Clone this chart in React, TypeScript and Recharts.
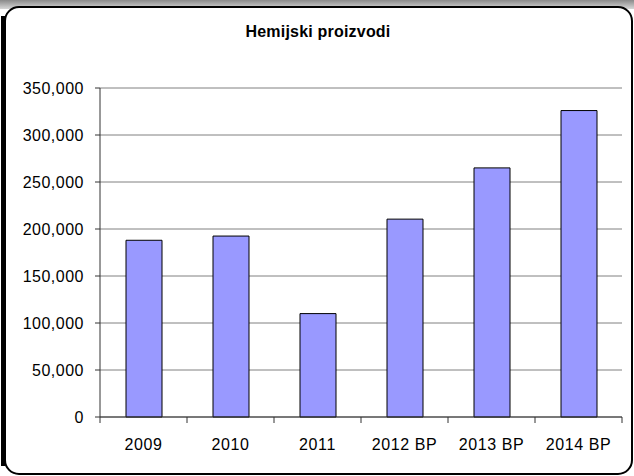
import React from "react";
import { BarChart, Bar, XAxis, YAxis, CartesianGrid } from "recharts";

const categories = ["2009", "2010", "2011", "2012 BP", "2013 BP", "2014 BP"];
const values = [188000, 192500, 110000, 210500, 265000, 326000];
const yTicks = [0, 50000, 100000, 150000, 200000, 250000, 300000, 350000];
const title = "Hemijski proizvodi";

const data = categories.map((c, i) => ({ name: c, value: values[i] }));

const W = 634;
const H = 476;
const FONT = "'Liberation Sans', Arial, sans-serif";
const PLOT_LEFT = 100;
const PLOT_RIGHT = 622;
const BAND = (PLOT_RIGHT - PLOT_LEFT) / categories.length;

const fmt = (v: number) => v.toLocaleString("en-US");

const XTick = (props: any) => {
  const { x, y, payload, index } = props;
  const half = BAND / 2;
  return (
    <g>
      <line x1={x - half} y1={y} x2={x - half} y2={y + 6} stroke="#333" />
      {index === categories.length - 1 && (
        <line x1={x + half} y1={y} x2={x + half} y2={y + 6} stroke="#333" />
      )}
      <text
        x={x}
        y={y + 33}
        textAnchor="middle"
        fontSize={16}
        fontFamily={FONT}
        fill="#000"
        style={{ letterSpacing: "0.6px" }}
      >
        {payload.value}
      </text>
    </g>
  );
};

export default function App() {
  return (
    <div style={{ position: "absolute", left: 0, top: 0, width: W, height: H, background: "#fff" }}>
      <svg width={W} height={H} style={{ position: "absolute", left: 0, top: 0 }}>
        <defs>
          <linearGradient id="topg" x1="0" y1="0" x2="0" y2="1">
            <stop offset="0" stopColor="#8a8a8a" />
            <stop offset="1" stopColor="#d8d8d8" />
          </linearGradient>
        </defs>
        <rect x={0} y={0} width={W} height={9} fill="url(#topg)" />
        <rect x={5} y={7} width={627} height={467} rx={14} ry={14} fill="#fff" stroke="#000" strokeWidth={2} />
        <rect x={1} y={16} width={4} height={450} fill="#000" />
        <text
          x={318}
          y={37}
          textAnchor="middle"
          fontSize={16}
          fontWeight="bold"
          fontFamily={FONT}
          fill="#000"
          style={{ letterSpacing: "0.2px" }}
        >
          {title}
        </text>
      </svg>
      <div style={{ position: "absolute", left: 0, top: 0 }}>
        <BarChart
          width={W}
          height={H}
          data={data}
          margin={{ top: 88, right: W - PLOT_RIGHT, bottom: 29, left: 0 }}
          barCategoryGap={0}
        >
          <CartesianGrid vertical={false} stroke="#808080" strokeWidth={1} />
          <XAxis
            dataKey="name"
            height={30}
            interval={0}
            tickLine={false}
            tickSize={0}
            tickMargin={0}
            axisLine={{ stroke: "#333" }}
            tick={<XTick />}
          />
          <YAxis
            width={PLOT_LEFT}
            domain={[0, 350000]}
            ticks={yTicks}
            interval={0}
            tickFormatter={fmt}
            tickSize={5}
            tickMargin={11}
            axisLine={{ stroke: "#333" }}
            tickLine={{ stroke: "#333" }}
            tick={{ fontSize: 16, fontFamily: FONT, fill: "#000", style: { letterSpacing: "0.5px" } }}
          />
          <YAxis
            yAxisId="right"
            orientation="right"
            width={0}
            domain={[0, 350000]}
            tick={false}
            tickLine={false}
            axisLine={{ stroke: "#999" }}
          />
          <Bar dataKey="value" fill="#9999FF" stroke="#000" strokeWidth={1} barSize={36} isAnimationActive={false} />
        </BarChart>
      </div>
    </div>
  );
}
